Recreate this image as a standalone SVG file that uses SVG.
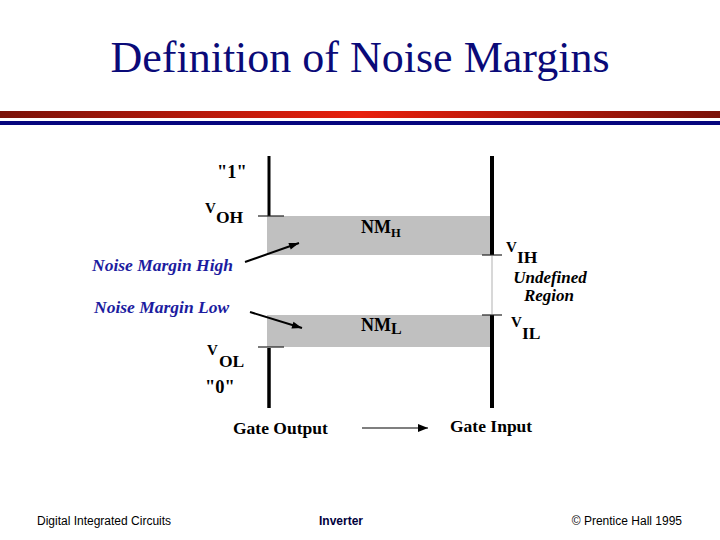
<svg xmlns="http://www.w3.org/2000/svg" width="720" height="540" viewBox="0 0 720 540">
<defs>
<linearGradient id="redbar" x1="0" y1="0" x2="1" y2="0">
<stop offset="0" stop-color="#7a1208"/>
<stop offset="0.5" stop-color="#e8200c"/>
<stop offset="1" stop-color="#7a1208"/>
</linearGradient>
<marker id="ah" viewBox="0 0 10 10" refX="10" refY="5" markerWidth="10" markerHeight="10" markerUnits="userSpaceOnUse" orient="auto">
<path d="M0,1 L10,5 L0,9 Z" fill="#000"/>
</marker>
<marker id="ah2" viewBox="0 0 10 10" refX="10" refY="5" markerWidth="16" markerHeight="10" markerUnits="userSpaceOnUse" orient="auto">
<path d="M0,1.5 L10,5 L0,8.5 Z" fill="#000"/>
</marker>
</defs>
<style>
.title{font-family:"Liberation Serif","Times New Roman",serif;font-size:44px;fill:#0a0a78}
.lbl{font-family:"Liberation Serif","Times New Roman",serif;font-weight:bold;fill:#000}
.blue{font-family:"Liberation Serif","Times New Roman",serif;font-weight:bold;font-style:italic;font-size:17.5px;fill:#1c1ca0}
.ital{font-family:"Liberation Serif","Times New Roman",serif;font-weight:bold;font-style:italic;font-size:17px;fill:#000}
.foot{font-family:"Liberation Sans",Arial,sans-serif;font-size:12px;fill:#000}
.band{fill:#c0c0c0}
.rail{stroke:#000;fill:none}
.tick{stroke:#222;stroke-width:1.2}
.conn{stroke:#000;stroke-width:2;fill:none}
</style>
<rect x="0" y="0" width="720" height="540" fill="#fff"/>
<text class="title" x="360" y="72" text-anchor="middle">Definition of Noise Margins</text>
<rect x="0" y="111" width="720" height="7" fill="url(#redbar)"/>
<rect x="0" y="121" width="720" height="4" fill="#06067e"/>

<g id="band-high"><rect class="band" x="267" y="216" width="223" height="39"/>
<text class="lbl" x="361" y="233" font-size="18">NM<tspan font-size="12.5" dy="4">H</tspan></text></g>
<g id="band-low"><rect class="band" x="267" y="315" width="223" height="32"/>
<text class="lbl" x="361" y="331" font-size="18">NM<tspan font-size="16" dy="3">L</tspan></text></g>

<g id="gate-output">
<line class="rail" x1="269" y1="156" x2="269" y2="216" stroke-width="3"/>
<line class="tick" x1="258" y1="216" x2="284" y2="216"/>
<line class="rail" x1="269" y1="348" x2="269" y2="408" stroke-width="3.5"/>
<line class="tick" x1="258" y1="347" x2="284" y2="347"/>
<text class="lbl" x="217" y="178" font-size="18.5">"1"</text>
<text class="lbl" x="205" y="213" font-size="15">V</text>
<text class="lbl" x="216" y="223" font-size="17.5">OH</text>
<text class="lbl" x="207" y="355" font-size="15">V</text>
<text class="lbl" x="219" y="367" font-size="17.5">OL</text>
<text class="lbl" x="205" y="393" font-size="18.5">"0"</text>
<text class="lbl" x="233" y="434" font-size="17.5">Gate Output</text>
</g>

<g id="gate-input">
<line class="rail" x1="492" y1="156" x2="492" y2="255" stroke-width="4"/>
<line class="rail" x1="492" y1="315" x2="492" y2="408" stroke-width="4"/>
<line x1="492" y1="256" x2="492" y2="314" stroke="#d8d8d8" stroke-width="2"/>
<line class="tick" x1="482" y1="255" x2="502" y2="255"/>
<line class="tick" x1="482" y1="315" x2="502" y2="315"/>
<text class="lbl" x="506" y="252" font-size="15">V</text>
<text class="lbl" x="517" y="263" font-size="17.5">IH</text>
<text class="ital" x="550" y="283" text-anchor="middle">Undefined</text>
<text class="ital" x="549" y="301" text-anchor="middle">Region</text>
<text class="lbl" x="511" y="327" font-size="15">V</text>
<text class="lbl" x="522" y="339" font-size="17.5">IL</text>
<text class="lbl" x="450" y="432" font-size="17.5">Gate Input</text>
</g>

<g id="nm-high-label"><text class="blue" x="92" y="271">Noise Margin High</text></g>
<g id="nm-low-label"><text class="blue" x="94" y="313">Noise Margin Low</text></g>

<g id="connectors">
<line class="conn" x1="245" y1="262" x2="299" y2="243" marker-end="url(#ah2)"/>
<line class="conn" x1="250" y1="312" x2="302" y2="328" marker-end="url(#ah2)"/>
<line x1="362" y1="428" x2="428" y2="428" stroke="#000" stroke-width="1.2" marker-end="url(#ah)"/>
</g>

<text class="foot" x="37" y="525">Digital Integrated Circuits</text>
<text class="foot" x="341" y="525" text-anchor="middle" font-weight="bold" style="fill:#00003c">Inverter</text>
<text class="foot" x="682" y="525" text-anchor="end">© Prentice Hall 1995</text>
</svg>
